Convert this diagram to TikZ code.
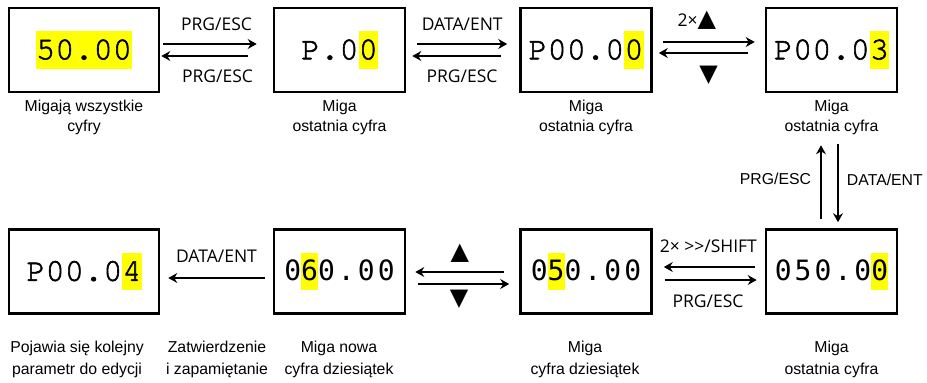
\documentclass[tikz,border=0pt]{standalone}
\usepackage{fontspec}
\setmainfont{Liberation Sans}
\newfontfamily\lcdfont[FakeBold=1.8]{TeX Gyre Cursor}
\newfontfamily\lcdsans[LetterSpace=11]{DejaVu Sans Mono}
\newfontfamily\keyfont{Open Sans}
\newfontfamily\symfont{DejaVu Sans}
\usepackage{xcolor}
\definecolor{hly}{RGB}{255,255,0}
\usetikzlibrary{arrows.meta}
\newcommand{\hl}[1]{{\setlength{\fboxsep}{0pt}\colorbox{hly}{\rule[-9.5pt]{0pt}{37.5pt}#1}}}
\newcommand{\tup}{{\symfont\fontsize{24}{24}\selectfont ▲}}
\newcommand{\tdown}{{\symfont\fontsize{24}{24}\selectfont ▼}}
\tikzset{
    disp/.style={draw, line width=2.6pt, minimum width=131pt, minimum height=84pt, inner sep=0pt, font=\lcdfont\fontsize{32}{32}\selectfont},
    wide/.style={minimum width=150pt},
    sansdisp/.style={font=\lcdsans\fontsize{28}{28}\selectfont},
    note/.style={align=center, font=\fontsize{15.8}{20}\selectfont},
    key/.style={font=\keyfont\fontsize{17.5}{20}\selectfont, inner sep=2pt},
    arr/.style={-{Stealth[length=9pt, width=10pt, inset=3pt]}, line width=1.3pt}
}
\begin{document}
\begin{tikzpicture}[x=1pt, y=-1pt]
    \useasboundingbox (0,0) rectangle (927,383);

    \node[disp, wide] at (84,50) (d1){\hl{50.00}};
    \node[disp] at (339.5,50) (d2){P.0\hl{0}};
    \node[disp] at (586,50) (d3){P00.0\hl{0}};
    \node[disp] at (831.5,50) (d4){P00.0\hl{3}};

    \node[disp, wide] at (84,271.5) (d5){P00.0\hl{4}};
    \node[disp, sansdisp] at (339.5,271.5) (d6){0\hl{6}0.00};
    \node[disp, sansdisp] at (586,271.5) (d7){0\hl{5}0.00};
    \node[disp, sansdisp] at (831.5,271.5) (d8){050.0\hl{0}};

    \node[note] at (84,117) (c1){Migają wszystkie\\cyfry};
    \node[note] at (339.5,117) (c2){Miga\\ostatnia cyfra};
    \node[note] at (586,117) (c3){Miga\\ostatnia cyfra};
    \node[note] at (831.5,117) (c4){Miga\\ostatnia cyfra};

    \node[note] at (77,359) (c5){Pojawia się kolejny\\[2pt]parametr do edycji};
    \node[note] at (217,359) (cz){Zatwierdzenie\\[2pt]i zapamiętanie};
    \node[note] at (339,359) (c6){Miga nowa\\[2pt]cyfra dziesiątek};
    \node[note] at (585,359) (c7){Miga\\[2pt]cyfra dziesiątek};
    \node[note] at (831.5,359) (c8){Miga\\[2pt]ostatnia cyfra};

    \draw[arr] ([xshift=3,yshift=6]d1.east) -- node[key, above=10.8pt, pos=0.57]{PRG/ESC} ([xshift=-16,yshift=6]d2.west);
    \draw[arr] ([xshift=-25,yshift=-6]d2.west) -- node[key, below=11.5pt, pos=0.35]{PRG/ESC} ([xshift=1,yshift=-6]d1.east);

    \draw[arr] ([xshift=11,yshift=6]d2.east) -- node[key, above=10.8pt, pos=0.5]{DATA/ENT} ([xshift=-12,yshift=6]d3.west);
    \draw[arr] ([xshift=-18,yshift=-6]d3.west) -- node[key, below=11.5pt, pos=0.44]{PRG/ESC} ([xshift=6,yshift=-6]d2.east);

    \draw[arr] ([xshift=10,yshift=8]d3.east) -- node[key, above=10pt, pos=0.37]{2×\tup} ([xshift=-10,yshift=8]d4.west);
    \draw[arr] ([xshift=-17,yshift=-3]d4.west) -- node[key, below=10pt, pos=0.44]{\tdown} ([xshift=6,yshift=-3]d3.east);

    \draw[arr] ([xshift=-10.5,yshift=9]d8.north) -- node[note, left=6pt, pos=0.55]{PRG/ESC} ([xshift=-10.5,yshift=-52]d4.south);
    \draw[arr] ([xshift=6.5,yshift=-51]d4.south) -- node[note, right=5pt, pos=0.45]{DATA/ENT} ([xshift=6.5,yshift=6]d8.north);

    \draw[arr] ([xshift=-10,yshift=4.5]d8.west) -- node[key, above=12pt, pos=0.51]{2× >>/SHIFT} ([xshift=11,yshift=4.5]d7.east);
    \draw[arr] ([xshift=12,yshift=-8.5]d7.east) -- node[key, below=11.7pt, pos=0.47]{PRG/ESC} ([xshift=-8,yshift=-8.5]d8.west);

    \draw[arr] ([xshift=-15,yshift=-0.5]d7.west) -- node[key, above=7pt, pos=0.5]{\tup} ([xshift=9,yshift=-0.5]d6.east);
    \draw[arr] ([xshift=12,yshift=-12.5]d6.east) -- node[key, below=3pt, pos=0.45]{\tdown} ([xshift=-10,yshift=-12.5]d7.west);

    \draw[arr] ([xshift=-8,yshift=-6.5]d6.west) -- node[key, above=12.8pt, pos=0.5]{DATA/ENT} ([xshift=8,yshift=-6.5]d5.east);
\end{tikzpicture}
\end{document}
